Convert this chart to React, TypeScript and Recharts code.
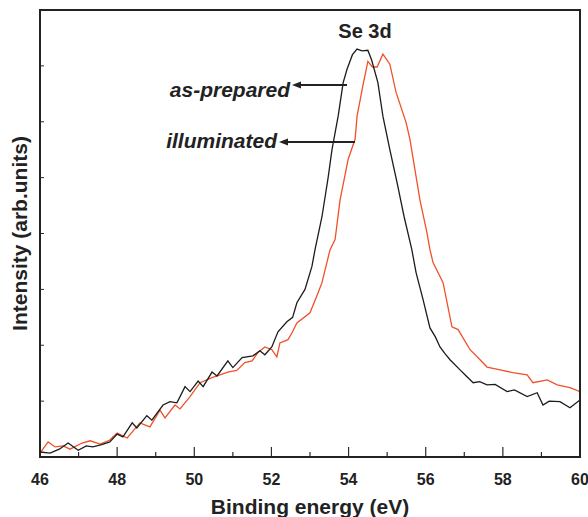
import { LineChart, Line, XAxis, YAxis } from 'recharts';

// binding energy (eV) / intensity (arb. units)
const asPreparedEnergy = [
  46.0, 46.26, 46.5, 46.73, 46.99, 47.2, 47.37, 47.6, 47.81, 48.0, 48.15, 48.39, 48.51, 48.77, 48.9,
  49.19, 49.37, 49.55, 49.76, 49.89, 50.1, 50.23, 50.46, 50.59, 50.87, 51.0, 51.24, 51.52, 51.7, 51.83,
  52.01, 52.17, 52.4, 52.55, 52.66, 52.87, 53.05, 53.13, 53.31, 53.47, 53.57, 53.73, 53.86, 53.96, 54.1,
  54.22, 54.35, 54.5, 54.6, 54.76, 54.89, 55.07, 55.26, 55.44, 55.64, 55.75, 55.93, 56.11, 56.25, 56.37,
  56.5, 56.63, 56.89, 57.05, 57.23, 57.4, 57.59, 57.8, 58.11, 58.3, 58.63, 58.89, 59.04, 59.2, 59.48,
  59.74, 60.0,
];
const asPreparedIntensity = [
  0.09, 0.07, 0.14, 0.25, 0.12, 0.2, 0.18, 0.22, 0.27, 0.41, 0.36, 0.61, 0.52, 0.74, 0.66,
  0.93, 0.99, 0.97, 1.26, 1.17, 1.36, 1.26, 1.52, 1.45, 1.72, 1.6, 1.78, 1.81, 1.9, 1.83,
  1.97, 2.24, 2.42, 2.5, 2.76, 3.0, 3.41, 3.71, 4.3, 5.0, 5.5, 6.1, 6.7, 6.94, 7.2,
  7.3, 7.27, 7.28, 7.1, 6.7, 6.1, 5.5, 4.9, 4.3, 3.71, 3.3, 2.82, 2.31, 2.15, 1.97,
  1.85, 1.74, 1.56, 1.45, 1.33, 1.35, 1.29, 1.3, 1.17, 1.2, 1.08, 1.15, 0.93, 1.0, 0.99,
  0.88, 1.02,
];

const illuminatedEnergy = [
  46.0, 46.21, 46.39, 46.6, 46.78, 47.09, 47.3, 47.56, 47.8, 48.0, 48.26, 48.59, 48.85, 49.11, 49.24,
  49.5, 49.63, 49.89, 50.15, 50.46, 50.87, 51.1, 51.31, 51.5, 51.65, 51.83, 52.01, 52.14, 52.22, 52.43,
  52.53, 52.66, 53.0, 53.21, 53.31, 53.52, 53.65, 53.78, 53.99, 54.17, 54.22, 54.37, 54.5, 54.62, 54.74,
  54.89, 55.07, 55.23, 55.49, 55.59, 55.85, 56.03, 56.11, 56.19, 56.45, 56.68, 56.84, 57.15, 57.41, 57.59,
  57.93, 58.26, 58.63, 58.78, 59.15, 59.41, 59.74, 60.0,
];
const illuminatedIntensity = [
  0.07, 0.27, 0.18, 0.2, 0.14, 0.25, 0.29, 0.23, 0.3, 0.43, 0.34, 0.61, 0.54, 0.84, 0.7,
  0.93, 0.86, 1.08, 1.33, 1.42, 1.52, 1.55, 1.69, 1.72, 1.87, 1.97, 1.92, 1.79, 2.04, 2.1,
  2.22, 2.4, 2.58, 2.94, 3.12, 3.71, 3.89, 4.6, 5.33, 5.69, 6.1, 6.64, 7.08, 6.98, 6.98,
  7.21, 7.03, 6.53, 5.99, 5.69, 4.6, 4.02, 3.71, 3.48, 3.12, 2.33, 2.28, 1.92, 1.74, 1.61,
  1.56, 1.51, 1.47, 1.33, 1.38, 1.29, 1.24, 1.17,
];

const xTicks = [46, 47, 48, 49, 50, 51, 52, 53, 54, 55, 56, 57, 58, 59, 60];
const yTicks = [0, 1, 2, 3, 4, 5, 6, 7, 8];

const asPrepared = asPreparedEnergy.map((e, i) => ({ e, v: asPreparedIntensity[i] }));
const illuminated = illuminatedEnergy.map((e, i) => ({ e, v: illuminatedIntensity[i] }));

const FONT = '"Liberation Sans", Arial, Helvetica, sans-serif';
const AXIS = '#2b2b2b';

// ticks point inward; labels only on the even energies
function XTick(props: any) {
  const { x, y, payload } = props;
  const major = payload.value % 2 === 0;
  return (
    <g>
      <line x1={x} x2={x} y1={y} y2={y - (major ? 10 : 5)} stroke={AXIS} strokeWidth={1.2} />
      {major && (
        <text x={x} y={y + 28} textAnchor="middle" fontFamily={FONT} fontWeight="bold" fontSize={16} fill="#222">
          {payload.value}
        </text>
      )}
    </g>
  );
}

function YTick(props: any) {
  const { x, y } = props;
  return <line x1={x} x2={x + 4} y1={y} y2={y} stroke={AXIS} strokeWidth={1} />;
}

function Arrow({ x1, x2, y }: { x1: number; x2: number; y: number }) {
  return (
    <g>
      <line x1={x1} x2={x2 + 6} y1={y} y2={y} stroke="#222" strokeWidth={2} />
      <polygon points={`${x2},${y} ${x2 + 9},${y - 3.5} ${x2 + 9},${y + 3.5}`} fill="#222" />
    </g>
  );
}

export default function App() {
  return (
    <div style={{ position: 'absolute', left: 0, top: 0, width: 588, height: 517, background: '#fff' }}>
      <LineChart width={588} height={517} margin={{ top: 10, right: 8, left: 0, bottom: 0 }}>
        <XAxis
          dataKey="e"
          type="number"
          domain={[46, 60]}
          ticks={xTicks}
          interval={0}
          allowDataOverflow
          height={60}
          stroke={AXIS}
          strokeWidth={1.5}
          tickLine={false}
          tickSize={0}
          tickMargin={0}
          tick={XTick}
          label={{
            value: 'Binding energy (eV)',
            position: 'insideBottom',
            offset: 3,
            style: { fontFamily: FONT, fontWeight: 'bold', fontSize: 21, fill: '#222' },
          }}
        />
        <YAxis
          type="number"
          domain={[0, 8]}
          ticks={yTicks}
          interval={0}
          width={40}
          stroke={AXIS}
          strokeWidth={1.5}
          tickLine={false}
          tickSize={0}
          tickMargin={0}
          tick={YTick}
          label={{
            value: 'Intensity (arb.units)',
            angle: -90,
            position: 'center',
            style: { fontFamily: FONT, fontWeight: 'bold', fontSize: 21, fill: '#222', textAnchor: 'middle' },
          }}
        />
        <Line data={illuminated} dataKey="v" type="linear" stroke="#f0502a" strokeWidth={1.3} dot={false} isAnimationActive={false} />
        <Line data={asPrepared} dataKey="v" type="linear" stroke="#1c1c1c" strokeWidth={1.3} dot={false} isAnimationActive={false} />
      </LineChart>
      <svg width={588} height={517} style={{ position: 'absolute', left: 0, top: 0 }}>
        {/* box frame around the plot area (40..580 x 10..457) */}
        <rect x={40} y={10} width={540} height={447} fill="none" stroke="#222" strokeWidth={2} />
        <text x={365} y={38} textAnchor="middle" fontFamily={FONT} fontWeight="bold" fontSize={20} fill="#222">
          Se 3d
        </text>
        <text x={290} y={97} textAnchor="end" fontFamily={FONT} fontWeight="bold" fontStyle="italic" fontSize={21} fill="#222">
          as-prepared
        </text>
        <Arrow x1={347} x2={292} y={85} />
        <text x={277} y={148} textAnchor="end" fontFamily={FONT} fontWeight="bold" fontStyle="italic" fontSize={21} fill="#222">
          illuminated
        </text>
        <Arrow x1={355} x2={279} y={142} />
      </svg>
    </div>
  );
}
